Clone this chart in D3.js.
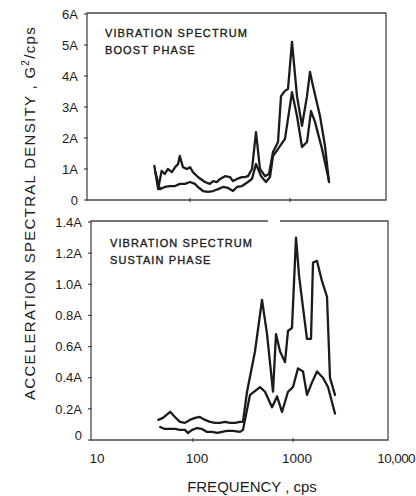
<!DOCTYPE html>
<html><head><meta charset="utf-8">
<script src="https://cdn.jsdelivr.net/npm/d3@7"></script>
<style>html,body{margin:0;padding:0;background:#fff;} svg{display:block;}</style>
</head><body>
<svg id="c" width="416" height="496"></svg>
<script>
// ---------- data ----------
const xTickValues = [10, 100, 1000, 10000];
const xTickLabels = ["10", "100", "1000", "10,000"];

const boostTicks = [0, 1, 2, 3, 4, 5, 6];
const boostTickLabels = ["0", "1A", "2A", "3A", "4A", "5A", "6A"];
const sustainTicks = [0, 0.2, 0.4, 0.6, 0.8, 1.0, 1.2, 1.4];
const sustainTickLabels = ["0", "0.2A", "0.4A", "0.6A", "0.8A", "1.0A", "1.2A", "1.4A"];

const boostUpperFreq = [44, 48, 52, 56, 60, 66, 71, 76, 79, 85, 93, 100, 107, 120, 141, 158, 170, 186, 200, 224, 251, 269, 295, 331, 355, 380, 417, 457, 501, 562, 617, 676, 759, 813, 891, 955, 1047, 1175, 1318, 1479, 1585, 1698, 1995, 2239, 2455];
const boostUpperVal  = [1.10, 0.35, 0.94, 0.84, 1.00, 0.90, 1.06, 1.16, 1.42, 1.06, 1.00, 1.06, 0.90, 0.74, 0.58, 0.52, 0.61, 0.58, 0.68, 0.77, 0.74, 0.61, 0.68, 0.74, 0.74, 0.77, 1.00, 2.19, 1.00, 0.77, 0.84, 1.55, 1.87, 3.35, 3.52, 3.58, 5.10, 3.35, 2.39, 3.35, 4.13, 3.68, 2.71, 1.74, 0.58];

const boostLowerFreq = [45, 50, 56, 63, 71, 79, 89, 100, 112, 120, 135, 151, 170, 191, 214, 240, 269, 295, 331, 380, 417, 457, 513, 575, 631, 676, 794, 891, 1047, 1175, 1318, 1479, 1622, 1778, 2089, 2455];
const boostLowerVal  = [0.90, 0.35, 0.42, 0.45, 0.45, 0.52, 0.52, 0.58, 0.52, 0.42, 0.29, 0.26, 0.29, 0.35, 0.42, 0.39, 0.29, 0.42, 0.45, 0.58, 0.68, 1.16, 0.77, 0.58, 0.74, 1.42, 1.74, 1.97, 3.48, 2.71, 1.71, 1.87, 2.87, 2.52, 1.65, 0.61];

const sustainUpperFreq = [45, 50, 59, 66, 74, 83, 93, 105, 117, 132, 148, 166, 186, 209, 234, 263, 295, 316, 347, 417, 490, 550, 631, 676, 741, 832, 891, 977, 1072, 1148, 1259, 1380, 1514, 1585, 1738, 1950, 2188, 2344, 2630];
const sustainUpperVal  = [0.129, 0.142, 0.181, 0.148, 0.116, 0.110, 0.129, 0.142, 0.148, 0.129, 0.116, 0.110, 0.110, 0.116, 0.110, 0.110, 0.116, 0.116, 0.31, 0.57, 0.90, 0.68, 0.31, 0.68, 0.57, 0.50, 0.70, 0.72, 1.30, 1.06, 0.85, 0.65, 0.65, 1.14, 1.15, 1.02, 0.92, 0.40, 0.29];

const sustainLowerFreq = [47, 52, 59, 66, 74, 83, 89, 98, 110, 123, 138, 155, 174, 195, 219, 251, 295, 316, 372, 468, 525, 617, 692, 776, 891, 1000, 1122, 1259, 1380, 1549, 1738, 1995, 2239, 2630];
const sustainLowerVal  = [0.084, 0.071, 0.071, 0.071, 0.065, 0.065, 0.045, 0.065, 0.077, 0.071, 0.052, 0.052, 0.045, 0.052, 0.058, 0.058, 0.052, 0.065, 0.29, 0.34, 0.31, 0.21, 0.28, 0.18, 0.31, 0.34, 0.46, 0.44, 0.29, 0.37, 0.44, 0.40, 0.34, 0.17];

const boostTitle = ["VIBRATION SPECTRUM", "BOOST PHASE"];
const sustainTitle = ["VIBRATION SPECTRUM", "SUSTAIN PHASE"];

// ---------- layout ----------
const svg = d3.select("#c");
const FONT = "'Liberation Sans', Arial, Helvetica, sans-serif";
const INK = "#1b1b1b";

const panels = [
  { xr: [90, 390], frameX: [87, 386], yr: [200, 14], frameY: [13, 200], domain: [0, 6],
    ticks: boostTicks, tickLabels: boostTickLabels, title: boostTitle, titlePos: [105, 37],
    series: [[boostUpperFreq, boostUpperVal], [boostLowerFreq, boostLowerVal]], xLabels: false, gap: null },
  { xr: [93, 393], frameX: [91, 388], yr: [440, 222], frameY: [221, 440], domain: [0, 1.4],
    ticks: sustainTicks, tickLabels: sustainTickLabels, title: sustainTitle, titlePos: [110, 247],
    series: [[sustainUpperFreq, sustainUpperVal], [sustainLowerFreq, sustainLowerVal]], xLabels: true, gap: [268, 280] }
];

panels.forEach(p => {
  const x = d3.scaleLog().domain([10, 10000]).range(p.xr);
  const y = d3.scaleLinear().domain(p.domain).range(p.yr);
  const g = svg.append("g");
  const [fx0, fx1] = p.frameX, [fy0, fy1] = p.frameY;

  // frame
  const framePath = p.gap
    ? `M${p.gap[0]},${fy0}H${fx0}V${fy1}H${fx1}V${fy0}H${p.gap[1]}`
    : `M${fx0},${fy0}H${fx1}V${fy1}H${fx0}Z`;
  g.append("path").attr("d", framePath).attr("fill", "none")
    .attr("stroke", "#4a4a4a").attr("stroke-width", 1.3);

  // y ticks + labels
  p.ticks.forEach((t, i) => {
    g.append("line").attr("x1", fx0 - 3).attr("x2", fx0 + 1)
      .attr("y1", y(t)).attr("y2", y(t)).attr("stroke", "#4a4a4a").attr("stroke-width", 1.2);
    g.append("text").attr("x", fx0 - 9).attr("y", y(t) + (t === 0 && p.xLabels ? -5 : 0))
      .attr("dy", "0.36em").attr("text-anchor", "end")
      .attr("font-family", FONT).attr("font-size", 13).attr("fill", INK)
      .text(p.tickLabels[i]);
  });

  // x ticks
  xTickValues.slice(1, 3).forEach(v => {
    g.append("line").attr("x1", x(v)).attr("x2", x(v))
      .attr("y1", fy1 - 2).attr("y2", fy1 + 2).attr("stroke", "#4a4a4a").attr("stroke-width", 1.2);
  });
  if (p.xLabels) {
    xTickValues.forEach((v, i) => {
      const last = i === xTickValues.length - 1;
      g.append("text").attr("x", last ? x(v) + 22 : x(v) + 4).attr("y", 463)
        .attr("text-anchor", last ? "end" : "middle")
        .attr("letter-spacing", last ? -0.6 : 0)
        .attr("font-family", FONT).attr("font-size", 13.5).attr("fill", INK)
        .text(xTickLabels[i]);
    });
  }

  // panel title
  p.title.forEach((s, i) => {
    g.append("text").attr("x", p.titlePos[0]).attr("y", p.titlePos[1] + i * 16.5)
      .attr("font-family", FONT).attr("font-size", 11).attr("letter-spacing", 1.1)
      .attr("fill", INK).attr("stroke", INK).attr("stroke-width", 0.35)
      .text(s);
  });

  // lines
  const line = d3.line().x(d => x(d[0])).y(d => y(d[1])).curve(d3.curveLinear);
  p.series.forEach(([fs, vs]) => {
    g.append("path").datum(fs.map((f, i) => [f, vs[i]]))
      .attr("d", line).attr("fill", "none").attr("stroke", INK)
      .attr("stroke-width", 2.3).attr("stroke-linejoin", "round").attr("stroke-linecap", "round");
  });
});

// axis titles
const yt = svg.append("text").attr("transform", "translate(35,213) rotate(-90)")
  .attr("text-anchor", "middle").attr("font-family", FONT).attr("font-size", 15)
  .attr("letter-spacing", 1.3).attr("fill", INK);
yt.append("tspan").text("ACCELERATION SPECTRAL DENSITY , G");
yt.append("tspan").attr("dy", -6).attr("font-size", 10).text("2");
yt.append("tspan").attr("dy", 6).text("/cps");

svg.append("text").attr("x", 252).attr("y", 492).attr("text-anchor", "middle")
  .attr("font-family", FONT).attr("font-size", 15).attr("fill", INK)
  .text("FREQUENCY , cps");
</script>
</body></html>
